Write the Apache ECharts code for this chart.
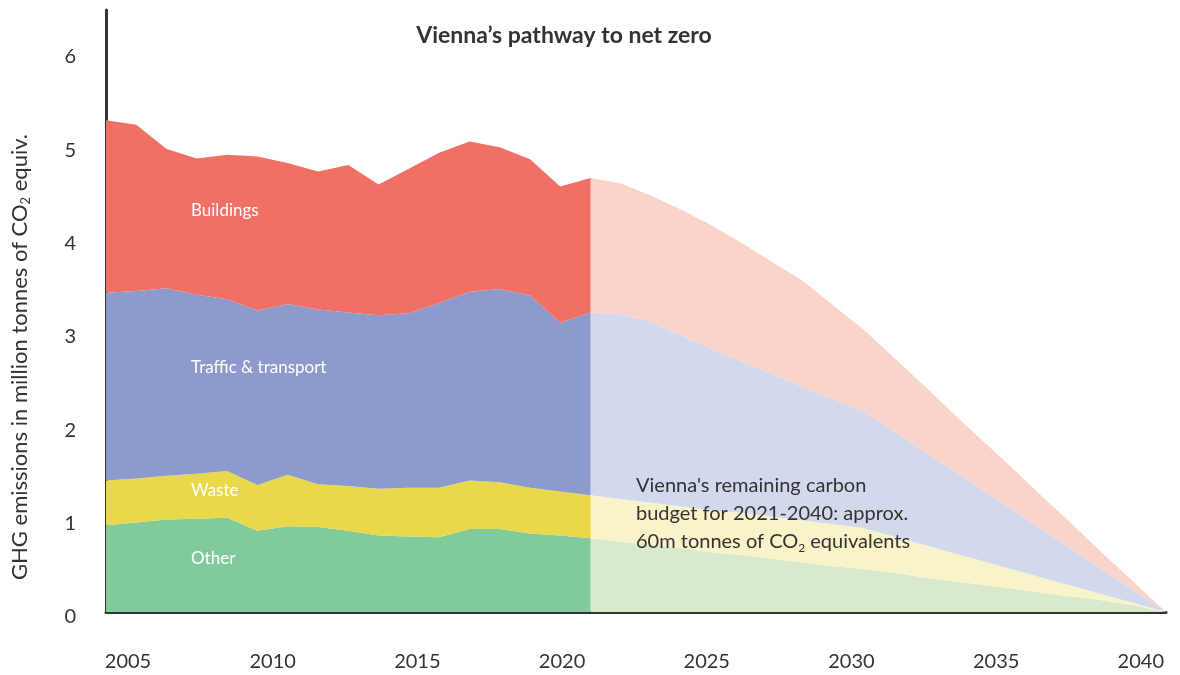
<!DOCTYPE html>
<html>
<head>
<meta charset="utf-8">
<title>Vienna's pathway to net zero</title>
<script src="https://cdn.jsdelivr.net/npm/echarts@6/dist/echarts.min.js"></script>
<style>
  html, body { margin: 0; padding: 0; background: #fff; }
  #chart { width: 1180px; height: 675px; }
</style>
</head>
<body>
<div id="chart"></div>
<script>
// all years on the chart
const years = [2005, 2006, 2007, 2008, 2009, 2010, 2011, 2012, 2013, 2014, 2015, 2016, 2017, 2018,
  2019, 2020, 2021, 2022, 2023, 2024, 2025, 2026, 2027, 2028, 2029, 2030, 2031, 2032, 2033, 2034,
  2035, 2036, 2037, 2038, 2039, 2040];

// measured emissions 2005-2021, million tonnes CO2 equiv.
const histOther = [0.93, 0.96, 0.99, 1.00, 1.01, 0.87, 0.92, 0.91, 0.87, 0.82, 0.81, 0.80, 0.89, 0.89, 0.84, 0.82, 0.79];
const histWaste = [0.48, 0.47, 0.47, 0.48, 0.50, 0.49, 0.55, 0.46, 0.48, 0.50, 0.52, 0.53, 0.52, 0.50, 0.49, 0.47, 0.46];
const histTraffic = [2.01, 2.01, 2.01, 1.92, 1.84, 1.87, 1.83, 1.87, 1.86, 1.86, 1.87, 1.98, 2.02, 2.07, 2.06, 1.81, 1.96];
const histBuildings = [1.85, 1.78, 1.49, 1.46, 1.55, 1.65, 1.51, 1.48, 1.58, 1.40, 1.55, 1.61, 1.61, 1.52, 1.46, 1.46, 1.44];

// pathway 2021-2040
const pathOther = [0.79, 0.75, 0.72, 0.68, 0.64, 0.61, 0.57, 0.53, 0.49, 0.46, 0.42, 0.37, 0.33, 0.29, 0.25, 0.20, 0.16, 0.12, 0.07, 0];
const pathWaste = [0.46, 0.46, 0.45, 0.45, 0.45, 0.45, 0.45, 0.45, 0.45, 0.44, 0.39, 0.35, 0.30, 0.25, 0.20, 0.16, 0.11, 0.06, 0.02, 0];
const pathTraffic = [1.96, 1.98, 1.94, 1.83, 1.73, 1.62, 1.53, 1.43, 1.34, 1.25, 1.13, 1.00, 0.88, 0.75, 0.63, 0.50, 0.38, 0.25, 0.13, 0];
const pathBuildings = [1.44, 1.40, 1.35, 1.35, 1.32, 1.27, 1.20, 1.14, 1.01, 0.88, 0.79, 0.71, 0.61, 0.53, 0.44, 0.35, 0.26, 0.17, 0.08, 0];

const yTicks = [0, 1, 2, 3, 4, 5, 6];
const xTicks = [2005, 2010, 2015, 2020, 2025, 2030, 2035, 2040];

const sectors = ['Other', 'Waste', 'Traffic & transport', 'Buildings'];
const darkColors = ['#80ca9b', '#e9d84a', '#8c9acc', '#f07066'];
const lightColors = ['#d9e9cb', '#f8f3c9', '#d3d9ec', '#fad3c9'];

const FONT = 'Lato, "Open Sans", sans-serif';
const INK = '#333333';

// pad a partial series out to the full year list
function fillYears(startYear, values) {
  const start = years.indexOf(startYear);
  return years.map((y, i) => {
    const k = i - start;
    return k >= 0 && k < values.length ? values[k] : '-';
  });
}

function areaSeries(name, values, color, stack) {
  return {
    name: name,
    type: 'line',
    stack: stack,
    data: values,
    showSymbol: false,
    silent: true,
    lineStyle: { width: 0 },
    itemStyle: { color: color },
    areaStyle: { color: color, opacity: 1 },
    z: stack === 'hist' ? 3 : 2
  };
}

const histData = [histOther, histWaste, histTraffic, histBuildings];
const pathData = [pathOther, pathWaste, pathTraffic, pathBuildings];

const series = [];
sectors.forEach((s, i) => {
  series.push(areaSeries(s, fillYears(2005, histData[i]), darkColors[i], 'hist'));
});
sectors.forEach((s, i) => {
  series.push(areaSeries(s + ' pathway', fillYears(2021, pathData[i]), lightColors[i], 'path'));
});

const chart = echarts.init(document.getElementById('chart'), null, { renderer: 'canvas' });

const labelStyle = { fill: '#ffffff', font: '17px ' + FONT, textVerticalAlign: 'middle' };

chart.setOption({
  backgroundColor: '#ffffff',
  animation: false,
  grid: { left: 106, right: 14, top: 10, bottom: 63 },
  xAxis: [
    {
      type: 'category',
      data: years,
      boundaryGap: false,
      axisLine: { show: true, onZero: false, lineStyle: { color: INK, width: 3 } },
      axisTick: { show: false },
      axisLabel: { show: false },
      splitLine: { show: false }
    },
    {
      // label axis: the printed year labels sit slightly off the data years
      type: 'value',
      position: 'bottom',
      min: 2004.24,
      max: 2040.87,
      axisLine: { show: false },
      axisTick: { show: false },
      splitLine: { show: false },
      axisLabel: {
        customValues: xTicks,
        margin: 40,
        color: INK,
        fontSize: 20,
        fontFamily: FONT,
        formatter: v => String(Math.round(v))
      }
    }
  ],
  yAxis: {
    type: 'value',
    min: 0,
    max: 6.45,
    axisLine: { show: true, lineStyle: { color: INK, width: 3 } },
    axisTick: { show: false },
    splitLine: { show: false },
    axisLabel: {
      customValues: yTicks,
      margin: 30,
      formatter: v => '{t|' + v + '}',
      rich: {
        t: { color: INK, fontSize: 20, fontFamily: FONT, padding: [10, 0, 0, 0] }
      }
    }
  },
  series: series,
  graphic: [
    {
      type: 'text',
      x: 564,
      y: 36,
      style: {
        text: 'Vienna\u2019s pathway to net zero',
        fill: INK,
        font: 'bold 23px ' + FONT,
        align: 'center',
        verticalAlign: 'middle'
      },
      z: 10
    },
    {
      type: 'text',
      x: 20,
      y: 357,
      rotation: Math.PI / 2,
      style: {
        text: 'GHG emissions in million tonnes of CO{sub|2} equiv.',
        fill: INK,
        font: '22px ' + FONT,
        align: 'center',
        verticalAlign: 'middle',
        rich: {
          sub: { fontSize: 13, fontFamily: FONT, fill: INK, padding: [11, 0, 0, 0] }
        }
      },
      z: 10
    },
    { type: 'text', x: 191, y: 211, style: Object.assign({ text: 'Buildings' }, labelStyle), z: 10 },
    { type: 'text', x: 191, y: 368, style: Object.assign({ text: 'Traffic & transport' }, labelStyle), z: 10 },
    { type: 'text', x: 191, y: 491, style: Object.assign({ text: 'Waste' }, labelStyle), z: 10 },
    { type: 'text', x: 191, y: 559, style: Object.assign({ text: 'Other' }, labelStyle), z: 10 },
    {
      type: 'text',
      x: 636,
      y: 472,
      style: {
        text: 'Vienna\'s remaining carbon\nbudget for 2021-2040: approx.\n60m tonnes of CO{sub|2} equivalents',
        fill: INK,
        font: '20px ' + FONT,
        lineHeight: 28,
        rich: {
          sub: { fontSize: 12, fontFamily: FONT, fill: INK, padding: [12, 0, 0, 0], lineHeight: 28 }
        }
      },
      z: 10
    }
  ]
});
</script>
</body>
</html>
